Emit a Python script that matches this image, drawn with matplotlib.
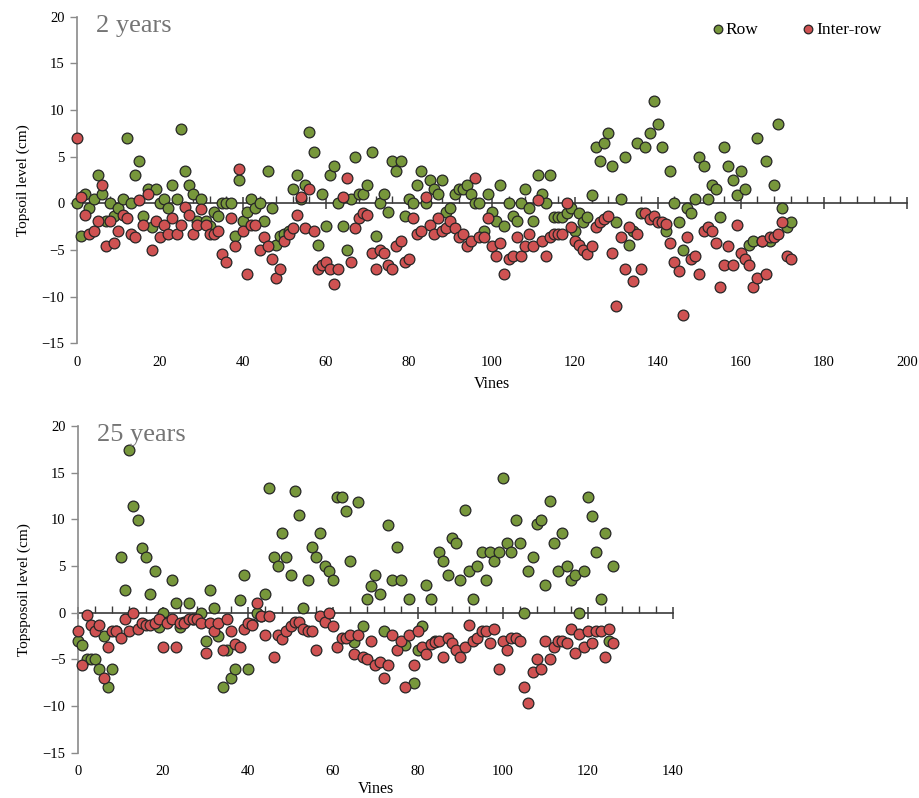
import matplotlib
matplotlib.use("Agg")
import matplotlib.pyplot as plt
from matplotlib.ticker import MultipleLocator
import numpy as np

plt.rcParams['font.family'] = ['Liberation Serif', 'DejaVu Serif']

# ---------------- data: 2 years ----------------
row_2y = [0, -3.5, 1.0, -0.5, 0.5, 3.0, 1.0, -1.9, 0, -1.4,
          -0.5, 0.5, 7.0, 0, 3.0, 4.5, -1.4, 1.5, -2.5, 1.5,
          0, 0.5, -0.5, 2.0, 0.5, 8.0, 3.5, 2.0, 1.0, -1.9,
          0.5, -1.9, -2.4, -0.9, -1.4, 0, 0, 0, -3.5, 2.5,
          -1.9, -0.9, 0.5, -0.5, 0, -1.9, 3.5, -0.5, -4.5, -3.5,
          -3.3, -3.0, 1.5, 3.0, 0.5, 2.0, 7.6, 5.5, -4.5, 1.0,
          -2.4, 3.0, 4.0, 0, -2.4, -5.0, 0.5, 5.0, 1.0, 1.0,
          2.0, 5.5, -3.5, 0, 1.0, -0.9, 4.5, 3.5, 4.5, -1.4,
          0.5, 0, 2.0, 3.5, 0, 2.5, 1.5, 1.0, 2.5, -0.9,
          -0.5, 1.0, 1.5, 1.5, 2.0, 1.0, 0, 0, -3.0, 1.0,
          -0.9, -1.9, 2.0, -2.4, 0, -1.4, -1.9, 0, 1.5, -0.5,
          -1.9, 3.0, 1.0, 0, 3.0, -1.5, -1.5, -1.5, -1.0, -0.5,
          -3.0, -1.0, -2.0, -1.5, 0.9, 6.0, 4.5, 6.5, 7.5, 4.0,
          -2.0, 0.5, 5.0, -4.5, -3.0, 6.5, -1.0, 6.0, 7.5, 11.0,
          8.5, 6.0, -3.0, 3.5, 0, -2.0, -5.0, -0.5, -1.0, 0.5,
          5.0, 4.0, 0.5, 2.0, 1.5, -1.5, 6.0, 4.0, 2.5, 0.9,
          3.5, 1.5, -4.5, -4.0, 7.0, -4.0, 4.5, -4.0, 2.0, 8.5,
          -0.5, -2.5, -2.0]
inter_2y = [7.0, 0.7, -1.3, -3.3, -3.0, -1.9, 2.0, -4.6, -1.9, -4.3,
            -3.0, -1.3, -1.6, -3.3, -3.6, 0.4, -2.3, 1.0, -5.0, -1.9,
            -3.6, -2.3, -3.3, -1.6, -3.3, -2.3, -0.4, -1.3, -3.3, -2.3,
            -0.6, -2.3, -3.3, -3.3, -3.0, -5.4, -6.3, -1.6, -4.6, 3.7,
            -3.0, -7.6, -2.3, -2.3, -5.0, -3.6, -4.6, -6.0, -8.0, -7.0,
            -4.0, -3.3, -2.6, -1.3, 0.7, -2.6, 1.5, -3.0, -7.0, -6.6,
            -6.3, -7.0, -8.6, -7.0, 0.7, 2.7, -6.3, -2.6, -1.6, -1.0,
            -1.3, -5.3, -7.0, -5.0, -5.3, -6.6, -7.0, -4.6, -4.0, -6.3,
            -6.0, -1.6, -3.3, -3.0, 0.7, -2.3, -3.3, -1.6, -3.0, -2.6,
            -1.9, -2.6, -3.6, -3.3, -4.6, -4.0, 2.7, -3.6, -3.6, -1.6,
            -4.6, -5.6, -4.3, -7.6, -6.0, -5.6, -3.6, -5.6, -4.6, -3.3,
            -4.6, 0.4, -4.0, -5.6, -3.6, -3.3, -3.3, -3.3, 0, -2.5,
            -4.0, -4.5, -5.0, -5.4, -4.6, -2.5, -2.0, -1.7, -1.4, -5.3,
            -11.0, -3.6, -7.0, -2.5, -8.3, -3.3, -7.0, -1.0, -1.7, -1.4,
            -2.0, -2.0, -2.2, -4.3, -6.3, -7.3, -12.0, -3.6, -6.0, -5.6,
            -7.6, -3.0, -2.5, -3.0, -4.3, -9.0, -6.6, -4.6, -6.6, -2.3,
            -5.3, -6.0, -6.6, -9.0, -8.0, -4.0, -7.6, -3.6, -3.6, -3.3,
            -2.0, -5.6, -6.0]

# ---------------- data: 25 years ----------------
row_25y = [-3.0, -3.5, -5.0, -5.0, -5.0, -6.0, -2.5, -8.0, -6.0, -2.0,
           6.0, 2.4, 17.4, 11.4, 9.9, 6.9, 6.0, 2.0, 4.5, -1.5,
           0, -1.0, 3.5, 1.0, -1.5, -1.0, 1.0, -0.7, -0.7, 0,
           -3.0, 2.4, 0.5, -2.5, -8.0, -4.0, -7.0, -6.0, 1.4, 4.0,
           -6.0, -1.2, 0, -0.4, 2.0, 13.4, 6.0, 5.0, 8.5, 6.0,
           4.0, 13.0, 10.5, 0.5, 3.5, 7.0, 6.0, 8.5, 5.0, 4.5,
           3.5, 12.4, 12.4, 10.9, 5.5, -3.1, 11.9, -1.4, 1.5, 2.9,
           4.0, 2.0, -2.0, 9.4, 3.5, 7.0, 3.5, -3.5, 1.5, -7.5,
           -4.0, -1.4, 3.0, 1.5, -3.0, 6.5, 5.5, 4.0, 8.0, 7.5,
           3.5, 11.0, 4.5, 1.5, 5.0, 6.5, 3.5, 6.5, 5.5, 6.5,
           14.4, 7.5, 6.5, 9.9, 7.5, 0, 4.5, 6.0, 9.5, 9.9,
           3.0, 12.0, 7.5, 4.5, 8.5, 5.0, 3.5, 4.0, 0, 4.5,
           12.4, 10.4, 6.5, 1.5, 8.5, -3.0, 5.0]
inter_25y = [-2.0, -5.6, -0.3, -1.3, -2.0, -1.3, -7.0, -3.7, -2.0, -2.0,
             -2.7, -0.7, -2.0, 0, -1.7, -1.1, -1.3, -1.3, -1.1, -0.7,
             -3.7, -1.1, -0.7, -3.7, -1.1, -1.1, -0.7, -0.7, -0.7, -1.1,
             -4.3, -1.1, -2.0, -1.1, -4.0, -0.7, -2.0, -3.4, -3.7, -1.7,
             -1.1, -1.3, 1.0, -0.4, -2.4, -0.4, -4.7, -2.4, -2.8, -2.0,
             -1.4, -1.0, -1.0, -1.7, -2.0, -2.0, -4.0, -0.4, -1.0, 0,
             -1.4, -3.7, -2.7, -2.7, -2.4, -4.4, -2.4, -4.7, -5.0, -3.0,
             -5.6, -5.3, -7.0, -5.6, -2.4, -4.0, -3.0, -8.0, -2.4, -5.6,
             -2.0, -3.7, -4.4, -3.4, -3.1, -3.0, -4.7, -2.7, -3.3, -4.0,
             -4.7, -3.7, -1.3, -3.0, -2.7, -2.0, -2.0, -3.3, -1.7, -6.0,
             -3.0, -4.0, -2.7, -2.7, -3.0, -8.0, -9.7, -6.4, -5.0, -6.0,
             -3.0, -5.0, -3.7, -3.0, -3.0, -3.3, -1.7, -4.3, -2.3, -3.7,
             -2.0, -3.3, -2.0, -2.0, -4.7, -1.7, -3.3]

panels = [
    dict(title="2 years", row=row_2y, inter=inter_2y, xmax=200,
         ylabel="Topsoil level (cm)", rect=[0.0837, 0.5698, 0.902, 0.4093],
         legend=True, xlabelpad=5),
    dict(title="25 years", row=row_25y, inter=inter_25y, xmax=140,
         ylabel="Topsposoil level (cm)", rect=[0.0848, 0.0568, 0.6467, 0.4094],
         legend=False, xlabelpad=2),
]

GREEN = '#77973b'
RED = '#cf5252'
EDGE = '#262626'
SPINE = '#8a8a8a'

fig = plt.figure(figsize=(9.2, 7.98), dpi=100)

for p in panels:
    ax = fig.add_axes(p['rect'])
    xr = np.arange(len(p['row']))
    xi = np.arange(len(p['inter']))
    ax.scatter(xr, p['row'], s=60, c=GREEN, edgecolors=EDGE, linewidths=0.9,
               zorder=3, label='Row', clip_on=False)
    ax.scatter(xi, p['inter'], s=60, c=RED, edgecolors=EDGE, linewidths=0.9,
               zorder=4, label='Inter-row', clip_on=False)
    ax.set_xlim(0, p['xmax'])
    ax.set_ylim(-15, 20)
    for s in ['top', 'right', 'bottom']:
        ax.spines[s].set_visible(False)
    ax.spines['left'].set_color(SPINE)
    ax.spines['left'].set_linewidth(1.2)
    ax.set_yticks(np.arange(-15, 21, 5))
    ax.set_xticks(np.arange(0, p['xmax'] + 1, 20))
    ax.tick_params(axis='y', colors=SPINE, labelcolor='black', length=5,
                   width=1, labelsize=10.5, pad=4)
    ax.tick_params(axis='x', length=0, labelsize=10.5, pad=9)
    ax.set_xlabel('Vines', fontsize=11.5, labelpad=p['xlabelpad'])
    ax.set_ylabel(p['ylabel'], fontsize=11, labelpad=8)
    ax.text(19 / 920 / p['rect'][2], 1.005, p['title'], transform=ax.transAxes,
            fontsize=19, color='#757575', va='top', ha='left')

    # horizontal zero axis with tick marks
    sec = ax.secondary_xaxis(15 / 35)
    sec.spines['bottom'].set_color('#3a3a3a')
    sec.spines['bottom'].set_linewidth(1.2)
    sec.set_xticks(np.arange(0, p['xmax'] + 1, 20))
    sec.xaxis.set_minor_locator(MultipleLocator(4))
    sec.tick_params(axis='x', which='major', direction='inout', length=9,
                    width=1.1, color='#3a3a3a', labelbottom=False)
    sec.tick_params(axis='x', which='minor', direction='in', length=5,
                    width=1.0, color='#3a3a3a', labelbottom=False)

    if p['legend']:
        fig.legend(loc='upper left', bbox_to_anchor=(0.772, 0.973), ncol=2,
                   frameon=False, fontsize=12.5, handletextpad=0.0,
                   handlelength=0.9, columnspacing=2.4, markerscale=0.8,
                   borderpad=0, borderaxespad=0)

fig.savefig('out.png', dpi=100)
